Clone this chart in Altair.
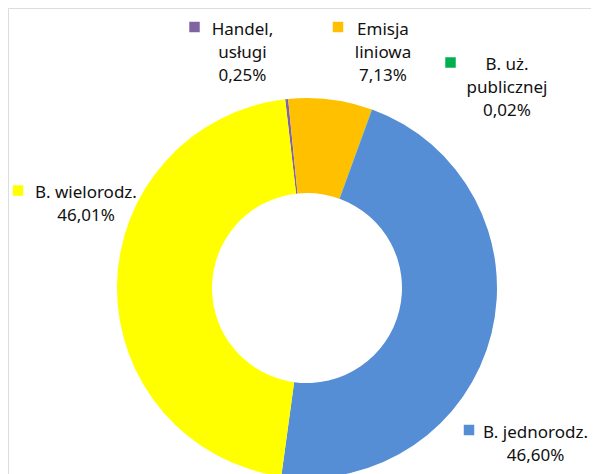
import math
import altair as alt
import pandas as pd

# ---- data ----
categories = ["Handel,\nusługi", "Emisja\nliniowa", "B. uż.\npublicznej", "B. jednorodz.", "B. wielorodz."]
values = [0.25, 7.13, 0.02, 46.60, 46.01]
colors = ["#8064A2", "#FFC000", "#00B050", "#558ED5", "#FFFF00"]

# ---- label layout (annotation positions, chart pixel coords) ----
label_center_x = [234.5, 375, 499, 527.5, 78]
label_baseline_y = [26.5, 26.5, 62, 429.5, 189.5]
key_x = [186.5, 330, 442.5, 461, 10]
key_y = [19, 19, 54.5, 422, 182.5]

pct = [f"{v:.2f}".replace(".", ",") + "%" for v in values]
idx = list(range(len(categories)))

df = pd.DataFrame({"cat": categories, "value": values, "idx": idx})
lab = pd.DataFrame({
    "cat": categories,
    "text": [c + "\n" + p for c, p in zip(categories, pct)],
    "x": label_center_x,
    "y": label_baseline_y,
    "kx": key_x,
    "ky": key_y,
    "idx": idx,
})

start = 2 * math.pi - 6.6 * math.pi / 180
color_scale = alt.Scale(domain=categories, range=colors)

donut = alt.Chart(df).mark_arc(outerRadius=190, innerRadius=95, stroke=None).encode(
    theta=alt.Theta("value:Q", stack=True, scale=alt.Scale(range=[start, start + 2 * math.pi])),
    order=alt.Order("idx:Q"),
    color=alt.Color("cat:N", scale=color_scale, sort=None, legend=None),
    x=alt.value(299),
    y=alt.value(280),
)

texts = alt.Chart(lab).mark_text(
    align="center", baseline="alphabetic", lineBreak="\n", lineHeight=23,
    font="Noto Sans", fontSize=17, color="#111111",
).encode(
    x=alt.X("x:Q", scale=None, axis=None),
    y=alt.Y("y:Q", scale=None, axis=None),
    text="text:N",
)

keys = alt.Chart(lab).mark_point(shape="square", filled=True, size=110, opacity=1).encode(
    x=alt.X("kx:Q", scale=None, axis=None),
    y=alt.Y("ky:Q", scale=None, axis=None),
    color=alt.Color("cat:N", scale=color_scale, sort=None, legend=None),
)

chart = alt.layer(donut, texts, keys).properties(
    width=583, height=466, padding=0, autosize=alt.AutoSizeParams(type="none"),
).configure_view(stroke=None).configure(background="white")

chart.save("out.html", embed_options={"renderer": "svg", "actions": False})
